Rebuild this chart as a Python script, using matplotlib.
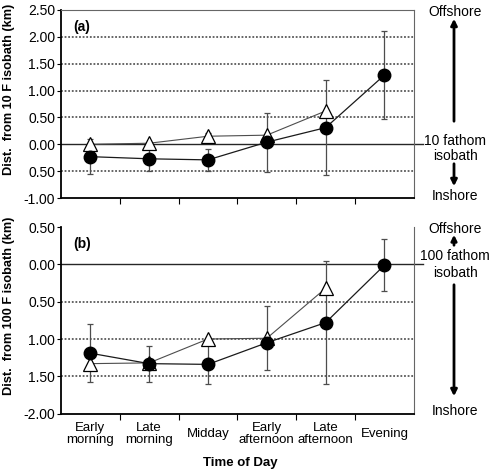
import matplotlib
matplotlib.use("Agg")
import matplotlib.pyplot as plt
import matplotlib.transforms as mtransforms
import numpy as np

plt.rcParams['font.family'] = ['Liberation Sans', 'DejaVu Sans']

# categories (time of day)
categories = ["Early\nmorning", "Late\nmorning", "Midday",
              "Early\nafternoon", "Late\nafternoon", "Evening"]

# panel (a): distance from 10 fathom isobath (km)
a_circle = [-0.23, -0.27, -0.29, 0.04, 0.31, 1.29]
a_circle_err = [0.33, 0.23, 0.21, 0.55, 0.88, 0.81]
a_tri = [0.00, 0.02, 0.15, 0.17, 0.62]
a_tri_err = [0.0, 0.0, 0.06, 0.0, 0.0]
a_ticks = [2.5, 2.0, 1.5, 1.0, 0.5, 0.0, -0.5, -1.0]
a_ticklabels = ["2.50", "2.00", "1.50", "1.00", "0.50", "0.00", "0.50", "-1.00"]

# panel (b): distance from 100 fathom isobath (km)
b_circle = [-1.19, -1.33, -1.34, -1.05, -0.78, -0.01]
b_circle_err = [0.39, 0.24, 0.26, 0.0, 0.82, 0.35]
b_tri = [-1.33, -1.32, -1.00, -0.99, -0.32]
b_tri_err = [0.0, 0.0, 0.0, 0.43, 0.0]
b_ticks = [0.5, 0.0, -0.5, -1.0, -1.5, -2.0]
b_ticklabels = ["0.50", "0.00", "0.50", "1.00", "1.50", "-2.00"]

fig = plt.figure(figsize=(4.91, 4.76), dpi=100)
ax_a = fig.add_axes([0.124, 0.584, 0.719, 0.395])
ax_b = fig.add_axes([0.124, 0.131, 0.719, 0.392])

x = np.arange(len(categories))


def draw_panel(ax, circ, circ_err, tri, tri_err, ticks, ticklabels, ylim, ylabel, tag, top_spine):
    ax.set_xlim(-0.5, len(categories) - 0.5)
    ax.set_ylim(*ylim)
    # dotted grid lines
    for t in ticks:
        if t != 0.0 and t not in ylim:
            ax.axhline(t, color='0.35', lw=1.3, ls=(0, (1, 1)), zorder=1)
    # zero line, sticks out to the right
    trans = mtransforms.blended_transform_factory(ax.transAxes, ax.transData)
    ax.plot([0, 1.026], [0, 0], color='0.15', lw=1.0, transform=trans, clip_on=False, zorder=2)

    xt = x[:len(tri)]
    ax.errorbar(x, circ, yerr=circ_err, fmt='none', ecolor='0.3', elinewidth=0.9,
                capsize=2.5, capthick=0.9, zorder=3)
    ax.errorbar(xt, tri, yerr=tri_err, fmt='none', ecolor='0.3', elinewidth=0.9,
                capsize=2.5, capthick=0.9, zorder=3)
    ax.plot(xt, tri, color='0.3', lw=0.8, marker='^', ms=9.5, mfc='white',
            mec='black', mew=0.9, zorder=4)
    ax.plot(x, circ, color='0.1', lw=0.9, marker='o', ms=9, mfc='black',
            mec='black', zorder=5)

    ax.set_yticks(ticks)
    ax.set_yticklabels(ticklabels, fontsize=10)
    ax.set_xticks(np.arange(len(categories) - 1) + 0.5)
    ax.tick_params(axis='x', length=4, width=0.8, labelbottom=False)
    ax.tick_params(axis='y', length=3, width=0.8, pad=1)
    ax.spines['left'].set_linewidth(1.3)
    ax.spines['bottom'].set_linewidth(1.3)
    ax.spines['right'].set_color('0.4')
    ax.spines['right'].set_linewidth(0.8)
    ax.spines['top'].set_color('0.4')
    ax.spines['top'].set_linewidth(0.8)
    ax.spines['top'].set_visible(top_spine)
    ax.set_ylabel(ylabel, fontsize=9.2, fontweight='bold')
    ax.yaxis.set_label_coords(-0.13, 0.58)
    ax.text(0.035, 0.91, tag, transform=ax.transAxes, fontsize=10,
            fontweight='bold', va='center', ha='left')


draw_panel(ax_a, a_circle, a_circle_err, a_tri, a_tri_err, a_ticks, a_ticklabels,
           (-1.0, 2.5), "Dist.  from 10 F isobath (km)", "(a)", True)
draw_panel(ax_b, b_circle, b_circle_err, b_tri, b_tri_err, b_ticks, b_ticklabels,
           (-2.0, 0.5), "Dist.  from 100 F isobath (km)", "(b)", False)

# category labels under panel (b)
for i, lab in enumerate(categories):
    ax_b.text(i, -2.27, lab, fontsize=9.5, ha='center', va='center', linespacing=1.05)
fig.text(0.49, 0.027, "Time of Day", fontsize=9.5, fontweight='bold', ha='center', va='center')

# right side annotations, panel (a)
xr = 455 / 491
fig.text(xr, 1 - 12 / 476, "Offshore", fontsize=10, ha='center', va='center')
fig.text(xr, 1 - 141 / 476, "10 fathom", fontsize=10, ha='center', va='center')
fig.text(xr, 1 - 156 / 476, "isobath", fontsize=10, ha='center', va='center')
fig.text(xr, 1 - 196 / 476, "Inshore", fontsize=10, ha='center', va='center')
fig.add_artist(matplotlib.patches.FancyArrowPatch(
    (454 / 491, 1 - 124 / 476), (454 / 491, 1 - 16 / 476), transform=fig.transFigure,
    arrowstyle='-|>', mutation_scale=9, lw=2, color='black'))
fig.add_artist(matplotlib.patches.FancyArrowPatch(
    (454 / 491, 1 - 161 / 476), (454 / 491, 1 - 189 / 476), transform=fig.transFigure,
    arrowstyle='-|>', mutation_scale=9, lw=2, color='black'))

# right side annotations, panel (b)
fig.text(xr, 1 - 229 / 476, "Offshore", fontsize=10, ha='center', va='center')
fig.text(xr, 1 - 256 / 476, "100 fathom", fontsize=10, ha='center', va='center')
fig.text(xr, 1 - 273 / 476, "isobath", fontsize=10, ha='center', va='center')
fig.text(xr, 1 - 411 / 476, "Inshore", fontsize=10, ha='center', va='center')
fig.add_artist(matplotlib.patches.FancyArrowPatch(
    (454 / 491, 1 - 248 / 476), (454 / 491, 1 - 232 / 476), transform=fig.transFigure,
    arrowstyle='-|>', mutation_scale=8, lw=2, color='black'))
fig.add_artist(matplotlib.patches.FancyArrowPatch(
    (454 / 491, 1 - 282 / 476), (454 / 491, 1 - 399 / 476), transform=fig.transFigure,
    arrowstyle='-|>', mutation_scale=9, lw=2, color='black'))

fig.savefig("out.png", dpi=100)
